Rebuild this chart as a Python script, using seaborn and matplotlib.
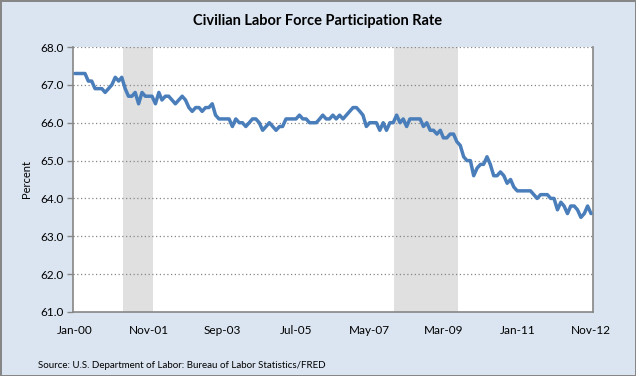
import pandas as pd
import numpy as np
import matplotlib
matplotlib.use("Agg")
import matplotlib.pyplot as plt
import seaborn as sns

# monthly civilian labor force participation rate, Jan 2000 - Nov 2012
rate_2000 = [67.3, 67.3, 67.3, 67.3, 67.1, 67.1, 66.9, 66.9, 66.9, 66.8, 66.9, 67.0]
rate_2001 = [67.2, 67.1, 67.2, 66.9, 66.7, 66.7, 66.8, 66.5, 66.8, 66.7, 66.7, 66.7]
rate_2002 = [66.5, 66.8, 66.6, 66.7, 66.7, 66.6, 66.5, 66.6, 66.7, 66.6, 66.4, 66.3]
rate_2003 = [66.4, 66.4, 66.3, 66.4, 66.4, 66.5, 66.2, 66.1, 66.1, 66.1, 66.1, 65.9]
rate_2004 = [66.1, 66.0, 66.0, 65.9, 66.0, 66.1, 66.1, 66.0, 65.8, 65.9, 66.0, 65.9]
rate_2005 = [65.8, 65.9, 65.9, 66.1, 66.1, 66.1, 66.1, 66.2, 66.1, 66.1, 66.0, 66.0]
rate_2006 = [66.0, 66.1, 66.2, 66.1, 66.1, 66.2, 66.1, 66.2, 66.1, 66.2, 66.3, 66.4]
rate_2007 = [66.4, 66.3, 66.2, 65.9, 66.0, 66.0, 66.0, 65.8, 66.0, 65.8, 66.0, 66.0]
rate_2008 = [66.2, 66.0, 66.1, 65.9, 66.1, 66.1, 66.1, 66.1, 65.9, 66.0, 65.8, 65.8]
rate_2009 = [65.7, 65.8, 65.6, 65.6, 65.7, 65.7, 65.5, 65.4, 65.1, 65.0, 65.0, 64.6]
rate_2010 = [64.8, 64.9, 64.9, 65.1, 64.9, 64.6, 64.6, 64.7, 64.6, 64.4, 64.5, 64.3]
rate_2011 = [64.2, 64.2, 64.2, 64.2, 64.2, 64.1, 64.0, 64.1, 64.1, 64.1, 64.0, 64.0]
rate_2012 = [63.7, 63.9, 63.8, 63.6, 63.8, 63.8, 63.7, 63.5, 63.6, 63.8, 63.6]

# recessions (first month, month after last)
recession_start = ["2001-03-10", "2007-12-10"]
recession_end = ["2001-12-10", "2009-07-10"]

tick_labels = ["Jan-00", "Nov-01", "Sep-03", "Jul-05", "May-07", "Mar-09", "Jan-11", "Nov-12"]

values = (rate_2000 + rate_2001 + rate_2002 + rate_2003 + rate_2004 + rate_2005 + rate_2006
          + rate_2007 + rate_2008 + rate_2009 + rate_2010 + rate_2011 + rate_2012)
df = pd.DataFrame({"date": pd.date_range("2000-01-01", periods=len(values), freq="MS"),
                   "rate": values})

sns.set_style("white")
plt.rcParams["font.family"] = ["Lato", "DejaVu Sans"]
plt.rcParams["text.color"] = "black"
plt.rcParams["xtick.color"] = "black"
plt.rcParams["ytick.color"] = "black"
plt.rcParams["axes.labelcolor"] = "black"

bg = "#dbe5f1"
gray = "#868686"
fig = plt.figure(figsize=(6.36, 3.76), dpi=100, facecolor=bg, edgecolor=gray, linewidth=2)
ax = fig.add_axes([73 / 636, 1 - 312 / 376, 520 / 636, 265 / 376])
ax.set_facecolor("white")

for s, e in zip(recession_start, recession_end):
    ax.axvspan(pd.Timestamp(s), pd.Timestamp(e), color="#e0e0e0", lw=0, zorder=0)

sns.lineplot(data=df, x="date", y="rate", ax=ax, color="#4a7ebb", lw=2.5, zorder=3)

ax.set_ylim(61, 68)
ax.set_yticks(np.arange(61, 68.5, 1))
ax.yaxis.set_major_formatter(matplotlib.ticker.FormatStrFormatter("%.1f"))
for y in range(62, 69):
    ax.axhline(y, color=gray, lw=0.9, ls=(0, (1, 2)), zorder=1)

tick_dates = [pd.Timestamp("2000-01-01") + pd.DateOffset(months=22 * i) for i in range(len(tick_labels))]
ax.set_xticks(tick_dates)
ax.set_xticklabels(tick_labels)
ax.set_xlim(pd.Timestamp("2000-01-01") - pd.Timedelta(days=18), pd.Timestamp("2012-11-01") + pd.Timedelta(days=18))

for side in ["left", "bottom", "right"]:
    ax.spines[side].set_color(gray)
    ax.spines[side].set_linewidth(1.2)
ax.spines["top"].set_visible(False)
ax.tick_params(axis="y", length=4, width=1, color=gray, labelcolor="black", pad=3, labelsize=8.5, left=True)
ax.tick_params(axis="x", length=0, pad=9, labelsize=8.5, labelcolor="black")

ax.set_xlabel("")
ax.set_ylabel("Percent", fontsize=8, labelpad=6)

fig.text(0.5, 1 - 21 / 376, "Civilian Labor Force Participation Rate", ha="center", va="center",
         fontsize=10.5, fontweight="bold")
fig.text(38 / 636, 1 - 365 / 376, "Source: U.S. Department of Labor: Bureau of Labor Statistics/FRED",
         ha="left", va="center", fontsize=7)

fig.savefig("out.png", dpi=100, facecolor=bg, edgecolor=gray)
